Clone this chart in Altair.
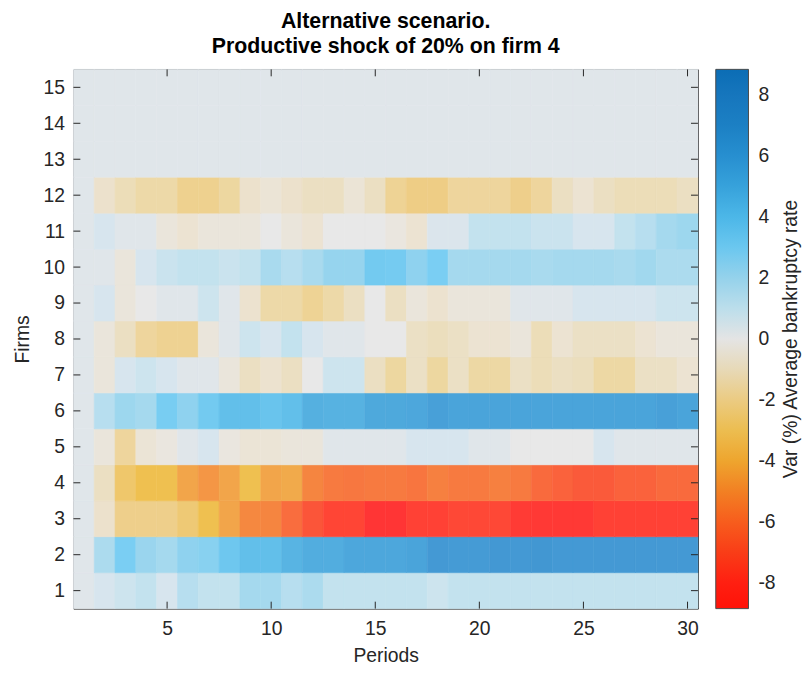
import altair as alt
import pandas as pd

# ---------------- data ----------------
periods = list(range(1, 31))
firms = list(range(1, 16))
x_tick_values = [5, 10, 15, 20, 25, 30]
cbar_values = [-8, -6, -4, -2, 0, 2, 4, 6, 8]
cbar_title = ["Var (%) Average bankruptcy rate"]

firm_1 = [0.25, 0.5, 0.8, 1.1, 0.5, 1.5, 1.1, 1.1, 2.0, 2.0, 1.5, 1.8, 1.1, 1.1, 1.1,
          1.1, 1.1, 0.8, 1.1, 1.1, 1.1, 1.1, 1.1, 1.1, 1.1, 1.1, 1.1, 1.1, 1.1, 1.1]
firm_2 = [0.25, 1.8, 3.2, 2.3, 2.0, 2.6, 2.8, 3.7, 4.2, 4.2, 4.8, 5.2, 5.2, 5.6, 5.6,
          5.6, 5.8, 6.3, 6.2, 6.2, 6.4, 6.3, 6.5, 6.3, 6.3, 6.3, 6.3, 6.3, 6.3, 6.3]
firm_3 = [0.25, -0.7, -2.3, -2.3, -2.3, -2.8, -3.5, -4.5, -5.3, -5.4, -6.3, -7.2, -7.8, -7.8, -8.6,
          -8.6, -8.0, -8.0, -7.7, -7.7, -7.7, -8.3, -8.4, -8.4, -8.4, -8.0, -8.0, -8.0, -8.0, -8.0]
firm_4 = [0.25, -1.0, -3.0, -3.5, -3.5, -4.5, -4.9, -4.5, -3.5, -4.5, -4.3, -5.4, -5.8, -5.9, -5.8,
          -5.8, -6.0, -5.6, -5.8, -5.8, -5.6, -5.8, -6.4, -6.7, -7.0, -7.0, -6.7, -6.7, -6.4, -6.4]
firm_5 = [0.25, -0.3, -1.8, -0.4, -0.2, 0.25, 0.5, -0.2, -0.4, -0.4, -0.3, -0.3, 0.25, 0.25, 0.25,
          0.25, 0.5, 0.5, 0.5, 0.25, 0.25, 0.0, 0.0, 0.0, 0.0, 0.5, 0.25, 0.25, 0.25, 0.25]
firm_6 = [0.25, 1.5, 2.2, 2.0, 3.3, 2.6, 3.5, 4.2, 4.2, 3.9, 4.2, 5.0, 4.9, 4.9, 5.5,
          5.5, 5.6, 6.0, 5.8, 5.8, 5.8, 5.8, 5.8, 5.8, 5.8, 5.8, 5.8, 5.8, 6.0, 5.8]
firm_7 = [0.25, -0.3, 0.5, 0.8, 0.5, 0.25, 0.25, -0.3, -1.0, -0.6, -1.0, 0.0, 0.8, 0.8, -1.0,
          -1.7, -0.9, -1.7, -0.9, -1.6, -1.6, -0.9, -1.2, -1.0, -1.1, -1.6, -1.6, -0.9, -0.9, -0.5]
firm_8 = [0.25, -0.3, -1.0, -1.8, -2.1, -2.1, -0.3, 0.25, 0.8, 0.5, 1.1, 0.5, 0.25, 0.25, 0.0,
          0.0, -0.9, -1.1, -0.9, -0.5, -0.5, -0.3, -1.2, -0.5, -0.9, -0.9, -0.9, -0.5, -0.3, -0.3]
firm_9 = [0.25, 0.5, -0.3, 0.0, 0.25, 0.25, 0.8, 0.25, -0.6, -1.5, -1.5, -2.0, -1.5, -1.0, 0.0,
          -1.0, -0.3, -0.6, -0.3, -0.3, -0.3, 0.25, 0.25, 0.25, 0.5, 0.5, 0.5, 0.5, 0.8, 0.8]
firm_10 = [0.25, 0.25, -0.3, 0.5, 0.9, 1.1, 1.1, 0.9, 1.1, 1.9, 1.5, 1.9, 2.4, 2.4, 3.5,
           3.4, 2.6, 3.2, 2.0, 2.0, 2.0, 2.0, 1.9, 2.0, 2.0, 2.0, 1.9, 2.1, 1.8, 1.8]
firm_11 = [0.25, 0.5, 0.25, 0.25, -0.3, -0.5, -0.3, -0.3, -0.3, 0.0, -0.3, -0.5, 0.0, 0.0, 0.0,
           -0.2, -0.5, 0.4, 0.4, 1.1, 1.1, 1.1, 0.9, 0.9, 0.5, 0.5, 1.1, 1.5, 2.0, 2.2]
firm_12 = [0.25, -0.7, -1.2, -1.5, -1.5, -2.2, -2.2, -1.7, -0.7, -0.4, -0.7, -1.0, -1.0, -0.4, -1.0,
           -2.0, -2.5, -2.5, -1.8, -1.8, -1.8, -2.3, -1.8, -1.0, -0.5, -1.0, -1.2, -1.2, -1.2, -1.0]
firm_13 = [0.25, 0.25, 0.25, 0.25, 0.25, 0.25, 0.25, 0.25, 0.25, 0.25, 0.25, 0.25, 0.25, 0.25, 0.25,
           0.25, 0.25, 0.25, 0.25, 0.25, 0.25, 0.25, 0.25, 0.25, 0.25, 0.25, 0.25, 0.25, 0.25, 0.25]
firm_14 = [0.25, 0.25, 0.25, 0.25, 0.25, 0.25, 0.25, 0.25, 0.25, 0.25, 0.25, 0.25, 0.25, 0.25, 0.25,
           0.25, 0.25, 0.25, 0.25, 0.25, 0.25, 0.25, 0.25, 0.25, 0.25, 0.25, 0.25, 0.25, 0.25, 0.25]
firm_15 = [0.25, 0.25, 0.25, 0.25, 0.25, 0.25, 0.25, 0.25, 0.25, 0.25, 0.25, 0.25, 0.25, 0.25, 0.25,
           0.25, 0.25, 0.25, 0.25, 0.25, 0.25, 0.25, 0.25, 0.25, 0.25, 0.25, 0.25, 0.25, 0.25, 0.25]

firm_rows = [firm_1, firm_2, firm_3, firm_4, firm_5, firm_6, firm_7, firm_8,
             firm_9, firm_10, firm_11, firm_12, firm_13, firm_14, firm_15]

records = []
for f, vals in zip(firms, firm_rows):
    for p, v in zip(periods, vals):
        records.append({"period": p, "firm": f, "value": v})
df = pd.DataFrame(records)

# ---------------- colour map ----------------
CLIM = 8.85
stop_values = [-CLIM, -8.6, -7.8, -7, -6.4, -5.8, -5.3, -4.5, -3.5, -2.5, -2, -1.5, -1, -0.5,
               0, 0.25, 0.5, 1.1, 1.5, 2, 2.5, 3.2, 4.2, 5, 5.8, 6.3, 7, 8, CLIM]
stop_colors = ["#FF1208", "#FF1111", "#FF2411", "#F93D17", "#F8501B", "#F6631E", "#F3731E",
               "#F0952A", "#ECB531", "#EBC46F", "#EBCB82", "#EAD299", "#E7D9B7", "#E9DECA",
               "#E4E4E4", "#DBE2E6", "#D0E0EB", "#B8DDEB", "#AAD8EC", "#95D2EB", "#7FCBEB",
               "#63C5F1", "#46B4E6", "#37A2DB", "#2A94D3", "#2387CC", "#1C80C4", "#1676BD",
               "#0B6DB5"]
ALPHA = 0.85


def soften(hex_color):
    h = hex_color.lstrip("#")
    rgb = [int(h[i:i + 2], 16) for i in (0, 2, 4)]
    out = [round(ALPHA * c + (1 - ALPHA) * 255) for c in rgb]
    return "#" + "".join(f"{c:02X}" for c in out)


cell_colors = [soften(c) for c in stop_colors]

# ---------------- chart ----------------
FONT = "Liberation Sans"
INK = "#262626"
W, H = 630, 544
TL = 7
FS = 19.5
CB_X, CB_W = 648, 33

xscale = alt.Scale(domain=[0.5, 30.5], nice=False, zero=False, padding=0)
yscale = alt.Scale(domain=[0.5, 15.5], nice=False, zero=False, padding=0)
cbscale = alt.Scale(domain=[-CLIM, CLIM], nice=False, zero=False, padding=0)

x_axis = alt.Axis(values=x_tick_values, title="Periods", ticks=False, tickSize=0, domain=False,
                  grid=False, labelPadding=11, titlePadding=9, format="d")
y_axis = alt.Axis(values=firms, title="Firms", ticks=False, tickSize=0, domain=False,
                  grid=False, labelPadding=9, titlePadding=11, format="d")

base = alt.Chart(df).transform_calculate(
    x0="datum.period - 0.5", x1="datum.period + 0.5",
    y0="datum.firm - 0.5", y1="datum.firm + 0.5",
)

cell_scale = alt.Scale(domain=stop_values, range=cell_colors, interpolate="rgb")

cells = base.mark_rect(strokeWidth=0.6).encode(
    x=alt.X("x0:Q", scale=xscale, axis=x_axis),
    x2="x1:Q",
    y=alt.Y("y0:Q", scale=yscale, axis=y_axis),
    y2="y1:Q",
    color=alt.Color("value:Q", scale=cell_scale, legend=None),
    stroke=alt.Stroke("value:Q", scale=cell_scale, legend=None),
)

legend_layer = alt.Chart(df).mark_point(size=0, filled=False, strokeOpacity=0).encode(
    x=alt.X("period:Q", scale=xscale, axis=x_axis),
    y=alt.Y("firm:Q", scale=yscale, axis=None),
    color=alt.Color(
        "value:Q",
        scale=alt.Scale(domain=stop_values, range=stop_colors, interpolate="rgb"),
        legend=alt.Legend(
            orient="none", legendX=CB_X, legendY=0, direction="vertical",
            gradientLength=H, gradientThickness=CB_W, gradientOpacity=1,
            gradientStrokeColor="#4a4a4a", gradientStrokeWidth=1,
            values=cbar_values, labelExpr="'' + datum.value",
            labelFont=FONT, labelFontSize=FS, labelColor=INK, labelOffset=10,
            labelOverlap=False, title=None, zindex=0,
        ),
    ),
)

xtick_df = pd.DataFrame({"tick": x_tick_values})
ytick_df = pd.DataFrame({"tick": firms})
cbtick_df = pd.DataFrame({"v": cbar_values})

x_bottom = alt.Chart(xtick_df).mark_rule(color=INK, strokeWidth=1).encode(
    x=alt.X("tick:Q", scale=xscale, axis=x_axis), y=alt.value(H), y2=alt.value(H - TL))
x_top = alt.Chart(xtick_df).mark_rule(color=INK, strokeWidth=1).encode(
    x=alt.X("tick:Q", scale=xscale, axis=x_axis), y=alt.value(0), y2=alt.value(TL))
y_left = alt.Chart(ytick_df).mark_rule(color=INK, strokeWidth=1).encode(
    y=alt.Y("tick:Q", scale=yscale, axis=None), x=alt.value(0), x2=alt.value(TL))
y_right = alt.Chart(ytick_df).mark_rule(color=INK, strokeWidth=1).encode(
    y=alt.Y("tick:Q", scale=yscale, axis=None), x=alt.value(W), x2=alt.value(W - TL))
cb_ticks = alt.Chart(cbtick_df).mark_rule(color=INK, strokeWidth=1).encode(
    y=alt.Y("v:Q", scale=cbscale, axis=None),
    x=alt.value(CB_X + CB_W - 7), x2=alt.value(CB_X + CB_W))

cbar_label = alt.Chart(pd.DataFrame({"t": cbar_title})).mark_text(
    angle=270, align="center", baseline="middle", font=FONT, fontSize=FS, color=INK
).encode(text="t:N", x=alt.value(W + 94), y=alt.value(H / 2))

chart = alt.layer(
    cells, legend_layer, x_bottom, x_top, y_left, y_right, cb_ticks, cbar_label
).resolve_scale(
    color="independent", y="independent"
).properties(
    width=W, height=H,
    title=alt.Title(["Alternative scenario.", "Productive shock of 20% on firm 4"],
                    font=FONT, fontSize=21.5, fontWeight="bold", color="#000000",
                    anchor="middle", offset=12, lineHeight=25),
    autosize=alt.AutoSizeParams(type="none"),
    padding={"left": 66, "top": 59, "right": 106, "bottom": 56},
).configure_view(
    stroke=INK, strokeWidth=1
).configure_axis(
    labelFont=FONT, labelFontSize=FS, labelColor=INK,
    titleFont=FONT, titleFontSize=FS, titleFontWeight="normal", titleColor=INK,
)

chart.save("out.html", embed_options={"renderer": "svg", "actions": False})
